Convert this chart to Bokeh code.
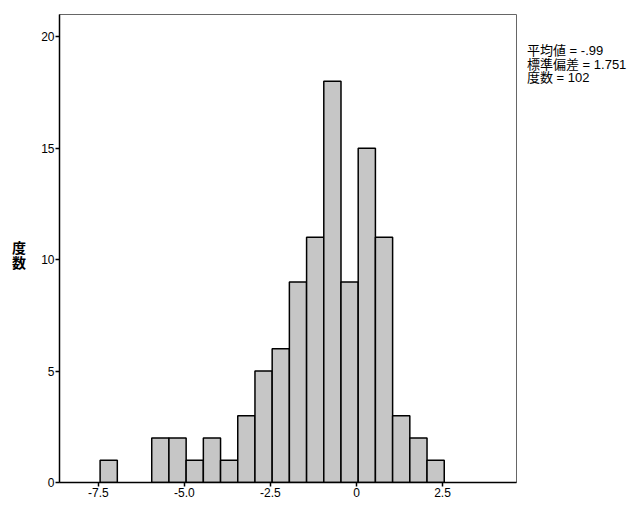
import numpy as np
from bokeh.plotting import figure
from bokeh.models import Range1d, FixedTicker, ColumnDataSource, Div
from bokeh.layouts import row
from bokeh.embed import file_html
from bokeh.resources import INLINE

# Histogram data
bin_start = -7.45
bin_width = 0.5
counts = [1, 0, 0, 2, 2, 1, 2, 1, 3, 5, 6, 9, 11, 18, 9, 15, 11, 3, 2, 1]

x_ticks = [-7.5, -5.0, -2.5, 0.0, 2.5]
x_tick_labels = ["-7.5", "-5.0", "-2.5", "0", "2.5"]
y_ticks = [0, 5, 10, 15, 20]

y_title = "度数"
stats_lines = ["平均値 = -.99", "標準偏差 = 1.751", "度数 = 102"]

counts_arr = np.array(counts, dtype=float)
lefts = bin_start + bin_width * np.arange(len(counts))
rights = lefts + bin_width
mask = counts_arr > 0
src = ColumnDataSource(dict(left=lefts[mask], right=rights[mask],
                            top=counts_arr[mask], bottom=np.zeros(mask.sum())))

p = figure(width=490, height=499, output_backend="svg", toolbar_location=None,
           x_range=Range1d(-8.63, 4.65), y_range=Range1d(0, 21.0),
           min_border_left=27, min_border_right=6, min_border_top=14,
           min_border_bottom=0)

p.quad(left="left", right="right", top="top", bottom="bottom", source=src,
       fill_color="#c6c6c6", line_color="black", line_width=1.5)

p.xgrid.visible = False
p.ygrid.visible = False
p.outline_line_color = "#666666"
p.outline_line_width = 1
p.background_fill_color = "white"
p.border_fill_color = "white"

for ax in (p.xaxis[0], p.yaxis[0]):
    ax.axis_line_color = "black"
    ax.axis_line_width = 1.5
    ax.major_tick_line_color = "black"
    ax.major_tick_line_width = 1.5
    ax.major_tick_out = 4
    ax.major_tick_in = 0
    ax.minor_tick_out = 0
    ax.minor_tick_in = 0
    ax.major_label_text_font = "Liberation Sans"
    ax.major_label_text_font_size = "12px"
    ax.major_label_text_color = "black"
    ax.major_label_standoff = 1

p.xaxis[0].ticker = FixedTicker(ticks=x_ticks)
p.xaxis[0].major_label_overrides = {t: l for t, l in zip(x_ticks, x_tick_labels)}
p.yaxis[0].ticker = FixedTicker(ticks=y_ticks)

left_div = Div(
    text=('<div style="margin-top:236px;margin-left:7px;'
          'writing-mode:vertical-rl;text-orientation:upright;'
          "font-family:'Noto Sans CJK JP';font-weight:bold;font-size:14px;"
          'line-height:14px;letter-spacing:1px;color:black">'
          + y_title + "</div>"),
    width=22, height=499)

right_div = Div(
    text=('<div style="margin-top:39px;padding-left:0px;white-space:nowrap;'
          "font-family:'Liberation Sans','Noto Sans CJK JP';font-size:13px;"
          'line-height:13.5px;color:black">'
          + "<br>".join(stats_lines) + "</div>"),
    width=107, height=499)

layout = row(left_div, p, right_div)

open("out.html", "w").write(file_html(layout, INLINE))
